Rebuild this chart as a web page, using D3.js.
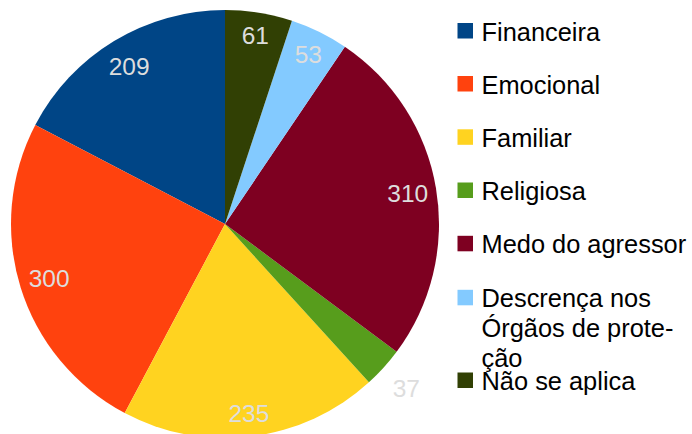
<!DOCTYPE html>
<html>
<head>
<meta charset="utf-8">
<script src="https://cdn.jsdelivr.net/npm/d3@7"></script>
<style>
  html, body { margin: 0; padding: 0; background: #fff; }
  svg { display: block; }
  text { font-family: "Liberation Sans", Arial, sans-serif; }
</style>
</head>
<body>
<svg id="chart" width="692" height="434"></svg>
<script>
const categories = ["Financeira", "Emocional", "Familiar", "Religiosa", "Medo do agressor", "Descrença nos Órgãos de proteção", "Não se aplica"];
const values = [209, 300, 235, 37, 310, 53, 61];
const colors = ["#004586", "#ff420e", "#ffd320", "#579d1c", "#7e0021", "#83caff", "#314004"];
const legendLines = [["Financeira"], ["Emocional"], ["Familiar"], ["Religiosa"], ["Medo do agressor"], ["Descrença nos", "Órgãos de prote-", "ção"], ["Não se aplica"]];

const svg = d3.select("#chart");
const cx = 225, cy = 224, R = 214;

const data = categories.map((c, i) => ({ name: c, value: values[i], color: colors[i], lines: legendLines[i] }));

const pie = d3.pie().sort(null).value(d => d.value).startAngle(0).endAngle(-2 * Math.PI);
const arcs = pie(data);
const arc = d3.arc().innerRadius(0).outerRadius(R);

const g = svg.append("g").attr("transform", `translate(${cx},${cy})`);
g.selectAll("path").data(arcs).enter().append("path")
  .attr("d", arc)
  .attr("fill", d => d.data.color);

const labelFont = 24.5;
const halfH = 14.4;
g.selectAll("text.lbl").data(arcs).enter().append("text")
  .attr("class", "lbl")
  .attr("text-anchor", "middle")
  .attr("font-size", labelFont)
  .attr("fill", "#dddddd")
  .text(d => d.data.value)
  .each(function(d) {
    const a = (d.startAngle + d.endAngle) / 2;
    const span = Math.abs(d.endAngle - d.startAngle) * 180 / Math.PI;
    const halfW = this.getComputedTextLength() / 2;
    const ext = halfW * Math.abs(Math.sin(a)) + halfH * Math.abs(Math.cos(a));
    const r = span < 12 ? (R + 11) + ext : (R - 6) - ext;
    d3.select(this)
      .attr("x", r * Math.sin(a))
      .attr("y", -r * Math.cos(a))
      .attr("dy", "0.36em");
  });

// Legend
const legendY = [40.5, 93.5, 146.8, 200, 253.3, 307.3, 390];
const lg = svg.append("g");
data.forEach((d, i) => {
  const base = legendY[i];
  lg.append("rect")
    .attr("x", 457.5).attr("y", base - 17.5)
    .attr("width", 15.5).attr("height", 15.5)
    .attr("fill", d.color);
  const t = lg.append("text")
    .attr("x", 481.5).attr("y", base)
    .attr("font-size", 25.4)
    .attr("fill", "#000");
  d.lines.forEach((ln, j) => {
    t.append("tspan").attr("x", 481.5).attr("y", base + j * 29.7).text(ln);
  });
});
</script>
</body>
</html>
